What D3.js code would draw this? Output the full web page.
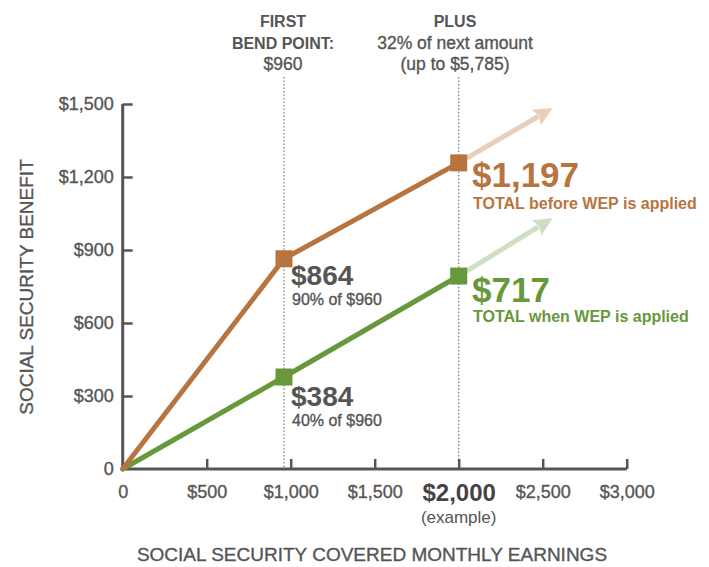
<!DOCTYPE html>
<html>
<head>
<meta charset="utf-8">
<script src="https://cdn.jsdelivr.net/npm/d3@7"></script>
<style>
  body { margin: 0; background: #fff; }
  svg { display: block; font-family: "Liberation Sans", Arial, sans-serif; }
</style>
</head>
<body>
<svg id="chart" width="709" height="567"></svg>
<script>
// Earnings (x) and benefit (y) as drawn in the picture
const earnings = [0, 960, 2000];
const beforeWep = [0, 864, 1258];
const withWep = [0, 378, 793];
const arrowTip = [2560, 1484, 1032]; // x, brown y, green y

const xTicks = [0, 500, 1000, 1500, 2000, 2500, 3000];
const xTickLabels = ["0", "$500", "$1,000", "$1,500", "$2,000", "$2,500", "$3,000"];
const yTicks = [0, 300, 600, 900, 1200, 1500];
const yTickLabels = ["0", "$300", "$600", "$900", "$1,200", "$1,500"];

const BROWN = "#b8743e";
const BROWN_LIGHT = "#e9cfb9";
const GREEN = "#67983b";
const GREEN_LIGHT = "#cfdec2";
const GRAY = "#555";

const svg = d3.select("#chart");
const x = d3.scaleLinear().domain([0, 3000]).range([122.7, 626.7]);
const y = d3.scaleLinear().domain([0, 1500]).range([469, 104]);

// thicken regular text a little, the original face is a medium weight
function medium(sel, color) {
  sel.attr("stroke", color).attr("stroke-width", 0.35).attr("paint-order", "stroke");
}

// Dotted guides for the bend point and the example earnings
svg.append("g")
  .selectAll("line")
  .data([960, 2000])
  .enter()
  .append("line")
  .attr("x1", (d) => x(d))
  .attr("x2", (d) => x(d))
  .attr("y1", 77)
  .attr("y2", y(0))
  .attr("stroke", "#777")
  .attr("stroke-width", 1.2)
  .attr("stroke-dasharray", "1.5,2");

// Axes
const xAxis = svg.append("g")
  .attr("transform", `translate(0, ${y(0)})`)
  .call(d3.axisBottom(x).tickValues(xTicks).tickSize(-10).tickPadding(15)
    .tickFormat((d, i) => xTickLabels[i]));
const yAxis = svg.append("g")
  .attr("transform", `translate(${x(0)}, 0)`)
  .call(d3.axisLeft(y).tickValues(yTicks).tickSize(-10).tickPadding(9)
    .tickFormat((d, i) => yTickLabels[i]));

xAxis.select(".domain").attr("d", `M${x(0)},0H${x(3000)}`);
yAxis.select(".domain").attr("d", `M0,${y(1500)}V${y(0)}`);
[xAxis, yAxis].forEach((a) => {
  a.attr("font-family", null).attr("font-size", null);
  a.select(".domain").attr("stroke", "#555").attr("stroke-width", 3);
  a.selectAll(".tick line").attr("stroke", "#555").attr("stroke-width", 2.5);
  a.selectAll(".tick text").attr("font-size", 18).attr("fill", GRAY).call(medium, GRAY);
});
xAxis.selectAll(".tick line").filter((d) => d === 0).remove();
yAxis.selectAll(".tick line").filter((d) => d === 0).remove();
xAxis.selectAll(".tick text").attr("y", 28.5).attr("dy", null);

// Highlight the example tick
xAxis.selectAll(".tick text")
  .filter((d) => d === 2000)
  .attr("font-size", 24)
  .attr("font-weight", "bold")
  .attr("y", 32)
  .attr("stroke", null)
  .attr("fill", "#444");
svg.append("text")
  .attr("x", x(2000))
  .attr("y", 523)
  .attr("text-anchor", "middle")
  .attr("font-size", 17)
  .attr("fill", GRAY)
  .text("(example)");

// Light arrows showing the trend continues
function arrow(color, fromX, fromY, toX, toY) {
  const x0 = x(fromX), y0 = y(fromY), x1 = x(toX), y1 = y(toY);
  const ang = Math.atan2(y1 - y0, x1 - x0);
  const head = 19, half = 9;
  const bx = x1 - head * Math.cos(ang), by = y1 - head * Math.sin(ang);
  svg.append("line")
    .attr("x1", x0).attr("y1", y0).attr("x2", bx + 2 * Math.cos(ang)).attr("y2", by + 2 * Math.sin(ang))
    .attr("stroke", color).attr("stroke-width", 5);
  svg.append("path")
    .attr("d", `M${x1},${y1}L${bx - half * Math.sin(ang)},${by + half * Math.cos(ang)}L${bx + 3 * Math.cos(ang)},${by + 3 * Math.sin(ang)}L${bx + half * Math.sin(ang)},${by - half * Math.cos(ang)}Z`)
    .attr("fill", color);
}
arrow(BROWN_LIGHT, earnings[2], beforeWep[2], arrowTip[0], arrowTip[1]);
arrow(GREEN_LIGHT, earnings[2], withWep[2], arrowTip[0], arrowTip[2]);

// Benefit lines and markers
const line = d3.line().x((d) => x(d[0])).y((d) => y(d[1]));
[[withWep, GREEN], [beforeWep, BROWN]].forEach(([vals, color]) => {
  const pts = earnings.map((e, i) => [e, vals[i]]);
  svg.append("path")
    .attr("d", line(pts))
    .attr("fill", "none")
    .attr("stroke", color)
    .attr("stroke-width", 5)
    .attr("stroke-linecap", "round");
  svg.append("g")
    .selectAll("rect")
    .data(pts.slice(1))
    .enter()
    .append("rect")
    .attr("x", (d) => x(d[0]) - 8.5)
    .attr("y", (d) => y(d[1]) - 8.5)
    .attr("width", 17)
    .attr("height", 17)
    .attr("fill", color);
});

// Value annotations
const notes = [
  { x: 291, y: 285, size: 28, text: "$864", color: GRAY },
  { x: 292, y: 305, size: 16, text: "90% of $960", color: GRAY, weight: "normal" },
  { x: 291, y: 406, size: 28, text: "$384", color: GRAY },
  { x: 292, y: 426, size: 16, text: "40% of $960", color: GRAY, weight: "normal" },
  { x: 472, y: 187, size: 35, text: "$1,197", color: BROWN },
  { x: 473, y: 209, size: 16, text: "TOTAL before WEP is applied", color: BROWN },
  { x: 472, y: 302, size: 35, text: "$717", color: GREEN },
  { x: 473, y: 322, size: 16, text: "TOTAL when WEP is applied", color: GREEN },
];
svg.append("g")
  .selectAll("text")
  .data(notes)
  .enter()
  .append("text")
  .attr("x", (d) => d.x)
  .attr("y", (d) => d.y)
  .attr("font-size", (d) => d.size)
  .attr("font-weight", (d) => d.weight || "bold")
  .attr("fill", (d) => d.color)
  .text((d) => d.text)
  .filter((d) => d.weight)
  .call(medium, GRAY);

// Headers above the guides
const headers = [
  { x: 283, y: 27, text: "FIRST", bold: true },
  { x: 283, y: 49, text: "BEND POINT:", bold: true },
  { x: 283, y: 70, text: "$960" },
  { x: 455, y: 27, text: "PLUS", bold: true },
  { x: 455, y: 49, text: "32% of next amount" },
  { x: 455, y: 70, text: "(up to $5,785)" },
];
svg.append("g")
  .selectAll("text")
  .data(headers)
  .enter()
  .append("text")
  .attr("x", (d) => d.x)
  .attr("y", (d) => d.y)
  .attr("text-anchor", "middle")
  .attr("font-size", (d) => d.bold ? 16 : 17.5)
  .attr("font-weight", (d) => d.bold ? "bold" : "normal")
  .attr("fill", GRAY)
  .text((d) => d.text)
  .filter((d) => !d.bold)
  .call(medium, GRAY);

// Axis titles
svg.append("text")
  .attr("x", 372)
  .attr("y", 561)
  .attr("text-anchor", "middle")
  .attr("font-size", 19)
  .attr("fill", GRAY)
  .text("SOCIAL SECURITY COVERED MONTHLY EARNINGS")
  .call(medium, GRAY);
svg.append("text")
  .attr("transform", "translate(33, 287) rotate(-90)")
  .attr("text-anchor", "middle")
  .attr("font-size", 19)
  .attr("fill", GRAY)
  .text("SOCIAL SECURITY BENEFIT")
  .call(medium, GRAY);
</script>
</body>
</html>
